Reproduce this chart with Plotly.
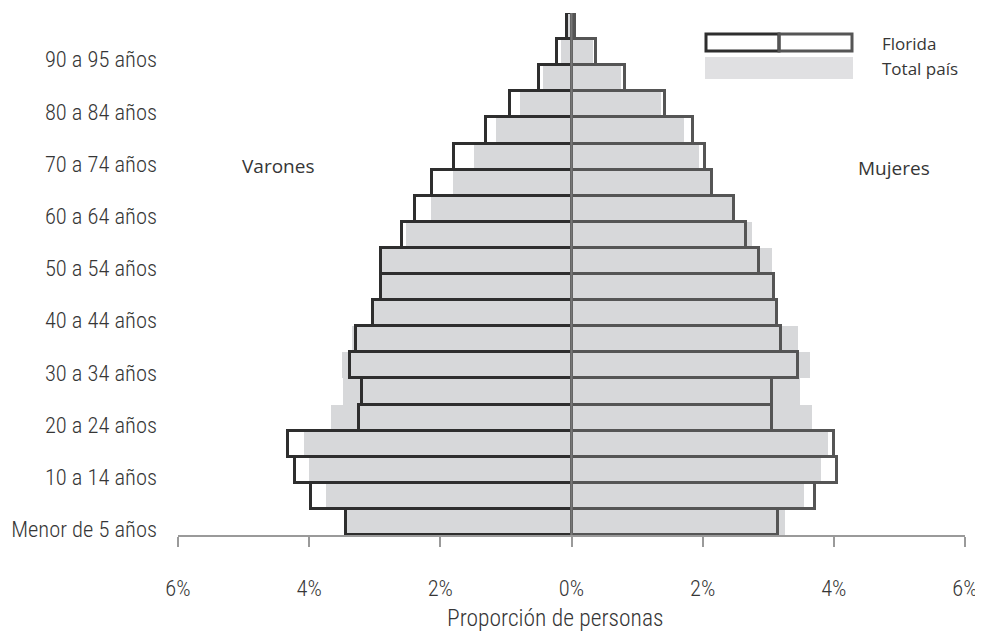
import plotly.graph_objects as go

ages = ["Menor de 5 años", "5 a 9 años", "10 a 14 años", "15 a 19 años", "20 a 24 años",
        "25 a 29 años", "30 a 34 años", "35 a 39 años", "40 a 44 años", "45 a 49 años",
        "50 a 54 años", "55 a 59 años", "60 a 64 años", "65 a 69 años", "70 a 74 años",
        "75 a 79 años", "80 a 84 años", "85 a 89 años", "90 a 95 años", "95 y más años"]

florida_varones = [3.44, 3.97, 4.21, 4.32, 3.24, 3.20, 3.37, 3.28, 3.03, 2.90,
                   2.90, 2.58, 2.39, 2.12, 1.79, 1.30, 0.94, 0.49, 0.22, 0.07]
pais_varones = [3.42, 3.75, 4.01, 4.08, 3.67, 3.48, 3.50, 3.34, 3.02, 2.89,
                2.89, 2.53, 2.15, 1.81, 1.48, 1.15, 0.79, 0.44, 0.16, 0.05]
florida_mujeres = [3.15, 3.71, 4.05, 4.01, 3.05, 3.06, 3.45, 3.19, 3.14, 3.09,
                   2.86, 2.66, 2.48, 2.14, 2.04, 1.85, 1.43, 0.81, 0.38, 0.06]
pais_mujeres = [3.26, 3.54, 3.81, 3.91, 3.66, 3.49, 3.63, 3.46, 3.12, 3.07,
                3.05, 2.75, 2.46, 2.12, 1.95, 1.71, 1.37, 0.76, 0.33, 0.05]

tick_vals_x = [-6, -4, -2, 0, 2, 4, 6]
tick_text_x = ["6%", "4%", "2%", "0%", "2%", "4%", "6%"]
x_title = "Proporción de personas"

COND = "Roboto Condensed, DejaVu Sans Condensed, sans-serif"
SANS = "Open Sans, DejaVu Sans, sans-serif"
TXT = "#363636"
GREY = "#d7d8da"
DARK_M = "#2e2e2e"
DARK_F = "#555555"

idx = list(range(len(ages)))

# page offset: the browser body has an 8px margin, so the figure is 8px smaller
OFF = 8
# target plot area in page pixels
PL, PR, PT, PB = 178, 965, 13, 535
W, H = 983 - OFF, 632 - OFF


def px(x):
    return (x - PL) / (PR - PL)


def py(y):
    return (PB - y) / (PB - PT)


fig = go.Figure()
fig.add_trace(go.Bar(y=idx, x=[-v for v in pais_varones], orientation="h",
                     marker=dict(color=GREY, line=dict(width=0)), showlegend=False,
                     name="Total país"))
fig.add_trace(go.Bar(y=idx, x=pais_mujeres, orientation="h",
                     marker=dict(color=GREY, line=dict(width=0)), showlegend=False,
                     name="Total país"))
fig.add_trace(go.Bar(y=idx, x=[-v for v in florida_varones], orientation="h",
                     marker=dict(color="rgba(0,0,0,0)", line=dict(width=3, color=DARK_M)),
                     showlegend=False, name="Florida"))
fig.add_trace(go.Bar(y=idx, x=florida_mujeres, orientation="h",
                     marker=dict(color="rgba(0,0,0,0)", line=dict(width=3, color=DARK_F)),
                     showlegend=False, name="Florida"))

label_idx = [i for i in idx if i % 2 == 0 and i < 19]

fig.update_layout(
    width=W, height=H,
    margin=dict(l=PL - OFF, r=983 - PR, t=PT - OFF, b=632 - PB, autoexpand=False),
    barmode="overlay", bargap=0,
    plot_bgcolor="white", paper_bgcolor="white",
    font=dict(family=COND, color=TXT, size=22),
    xaxis=dict(range=[-6, 6], tickvals=tick_vals_x, ticktext=tick_text_x, automargin=False,
               showgrid=False, zeroline=False, showline=True, linecolor="#9a9a9a",
               linewidth=2, ticks="outside", ticklen=10, tickcolor="#9a9a9a", tickwidth=2,
               ticklabelstandoff=22,
               tickfont=dict(family=COND, size=22.5, color=TXT, weight=300)),
    yaxis=dict(range=[-0.5, 19.5], tickvals=[i - 0.28 for i in label_idx], automargin=False,
               ticktext=[ages[i] for i in label_idx], showgrid=False, zeroline=False,
               showline=False, ticks="", ticklabelstandoff=20,
               tickfont=dict(family=COND, size=22.5, color=TXT, weight=300)),
    shapes=[
        dict(type="line", xref="x", yref="paper", x0=0, x1=0, y0=0, y1=1,
             line=dict(color="#777777", width=2)),
        dict(type="rect", xref="paper", yref="paper",
             x0=px(705), x1=px(853), y0=py(79), y1=py(57),
             fillcolor="#e0e0e2", line=dict(width=0)),
        dict(type="rect", xref="paper", yref="paper",
             x0=px(706), x1=px(779), y0=py(51), y1=py(34),
             fillcolor="rgba(0,0,0,0)", line=dict(width=3, color=DARK_M)),
        dict(type="rect", xref="paper", yref="paper",
             x0=px(779), x1=px(852), y0=py(51), y1=py(34),
             fillcolor="rgba(0,0,0,0)", line=dict(width=3, color=DARK_F)),
    ],
    annotations=[
        dict(text=x_title, xref="paper", yref="paper", x=px(555), y=py(618),
             xanchor="center", yanchor="middle", showarrow=False,
             font=dict(family=COND, size=23.5, color=TXT, weight=300)),
        dict(text="Varones", xref="paper", yref="paper", x=px(278), y=py(166),
             xanchor="center", yanchor="middle", showarrow=False,
             font=dict(family=SANS, size=19, color=TXT)),
        dict(text="Mujeres", xref="paper", yref="paper", x=px(894), y=py(168),
             xanchor="center", yanchor="middle", showarrow=False,
             font=dict(family=SANS, size=19, color=TXT)),
        dict(text="Florida", xref="paper", yref="paper", x=px(880), y=py(44),
             xanchor="left", yanchor="middle", showarrow=False,
             font=dict(family=SANS, size=17, color=TXT)),
        dict(text="Total país", xref="paper", yref="paper", x=px(880), y=py(68),
             xanchor="left", yanchor="middle", showarrow=False,
             font=dict(family=SANS, size=17, color=TXT)),
    ],
)

fig.write_html("out.html")
